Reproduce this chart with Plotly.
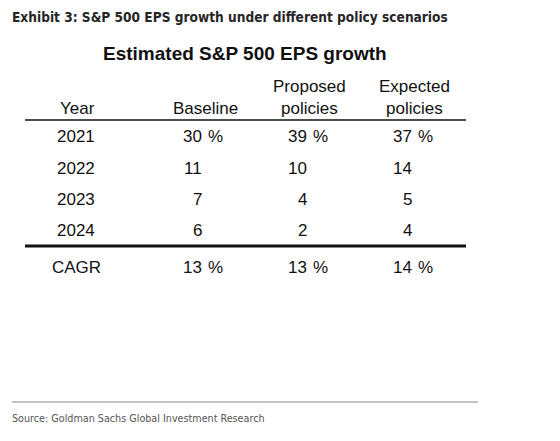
import plotly.graph_objects as go

exhibit_title = "Exhibit 3: S&P 500 EPS growth under different policy scenarios"
table_title = "Estimated S&P 500 EPS growth"
source_text = "Source: Goldman Sachs Global Investment Research"

years = ["2021", "2022", "2023", "2024"]
baseline = [30, 11, 7, 6]
proposed = [39, 10, 4, 2]
expected = [37, 14, 5, 4]
cagr_label = "CAGR"
cagr = [13, 13, 14]

col_headers = ["Year", "Baseline", "Proposed<br>policies", "Expected<br>policies"]

W, H = 560, 441
OFF = 8  # default page body margin
fig = go.Figure()

BODY = dict(family="Liberation Sans, Arial, sans-serif", size=17, color="#111111")
NARROW = "DejaVu Sans Condensed, Liberation Sans Narrow, Arial Narrow, sans-serif"
ann = []

def add(x, y, text, font, xanchor="center", yanchor="middle"):
    ann.append(dict(x=x, y=y, xref="x", yref="y", text=text, showarrow=False,
                    font=font, xanchor=xanchor, yanchor=yanchor, borderpad=0))

# Titles
add(11, 17, "<b>" + exhibit_title + "</b>",
    dict(family=NARROW, size=13.6, color="#262626"), xanchor="left")
add(245, 53, "<b>" + table_title + "</b>",
    dict(family="Liberation Sans, Arial, sans-serif", size=19, color="#111111"))

# Headers
header_x = [77, 205, 309, 414]
add(header_x[0], 108, col_headers[0], BODY)
add(header_x[1], 108, col_headers[1], BODY)
add(header_x[2], 97, col_headers[2], BODY)
add(header_x[3], 97, col_headers[3], BODY)

# Body rows
row_y = [136, 168, 199, 230]
num_right = [203, 308, 413]
series = [baseline, proposed, expected]
for i, yr in enumerate(years):
    add(76, row_y[i], yr, BODY)
    for c, s in enumerate(series):
        add(num_right[c], row_y[i], str(s[i]), BODY, xanchor="right")
        if i == 0:
            add(num_right[c] + 4, row_y[i], "%", BODY, xanchor="left")

cagr_y = 267
add(76, cagr_y, cagr_label, BODY)
for c, v in enumerate(cagr):
    add(num_right[c], cagr_y, str(v), BODY, xanchor="right")
    add(num_right[c] + 4, cagr_y, "%", BODY, xanchor="left")

# Source
add(11, 418, source_text, dict(family=NARROW, size=10.7, color="#555555"), xanchor="left")

shapes = [
    dict(type="line", xref="x", yref="y", x0=25, x1=466, y0=120, y1=120,
         line=dict(color="#111111", width=1.5)),
    dict(type="line", xref="x", yref="y", x0=25, x1=466, y0=246, y1=246,
         line=dict(color="#111111", width=3)),
    dict(type="line", xref="x", yref="y", x0=12, x1=478, y0=402, y1=402,
         line=dict(color="#888888", width=1)),
]

fig.update_layout(
    width=W - OFF, height=H - OFF,
    margin=dict(l=0, r=0, t=0, b=0),
    paper_bgcolor="white", plot_bgcolor="white",
    xaxis=dict(range=[OFF, W], visible=False, fixedrange=True),
    yaxis=dict(range=[H, OFF], visible=False, fixedrange=True),
    annotations=ann, shapes=shapes, showlegend=False,
)

fig.write_html("out.html")
